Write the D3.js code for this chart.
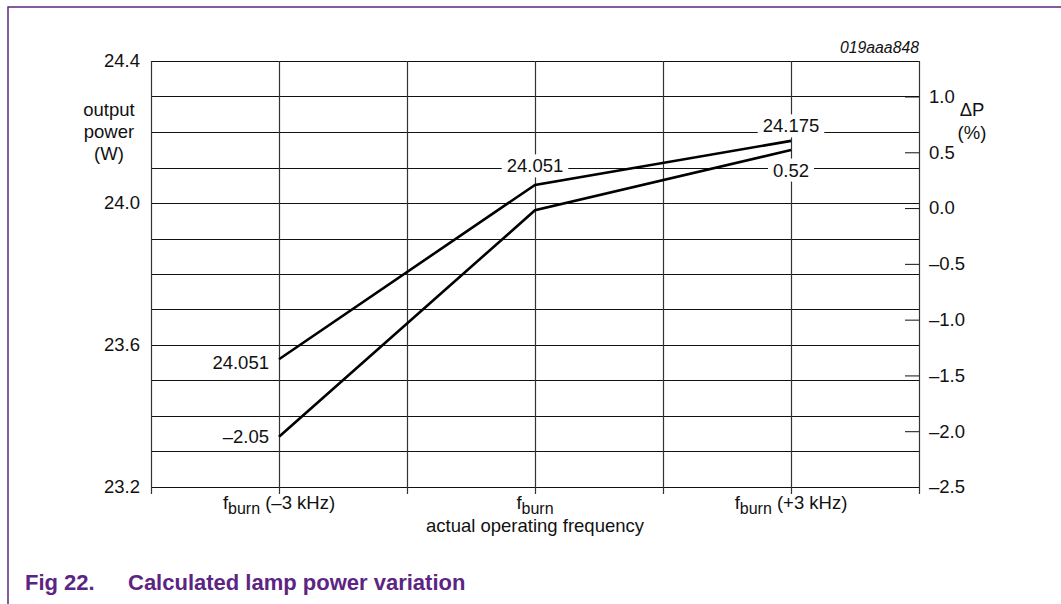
<!DOCTYPE html>
<html>
<head>
<meta charset="utf-8">
<script src="https://cdn.jsdelivr.net/npm/d3@7"></script>
<style>
  body { margin: 0; background: #fff; }
  svg { display: block; font-family: Arial, "Liberation Sans", sans-serif; }
</style>
</head>
<body>
<svg width="1061" height="604"></svg>
<script>
// frequency offsets (kHz) relative to f_burn and their axis labels
var freqOffsets = [-3, 0, 3];
var freqSuffix = [" (–3 kHz)", "", " (+3 kHz)"];

// output power (W), left axis
var powerW = [23.56, 24.051, 24.175];
var powerLabels = ["24.051", "24.051", "24.175"];

// power change (%), right axis
var deltaP = [-2.05, -0.02, 0.52];
var deltaLabels = ["–2.05", null, "0.52"];

var leftTicks = [23.2, 23.6, 24.0, 24.4];
var rightTicks = [-2.5, -2.0, -1.5, -1.0, -0.5, 0.0, 0.5, 1.0];

var purple = "#5c2483";
var fs = 18.5;
var svg = d3.select("svg");

var plotL = 151, plotR = 919, plotT = 61, plotB = 487;

var x = d3.scaleLinear().domain([-4.5, 4.5]).range([plotL, plotR]);
var yL = d3.scaleLinear().domain([23.2, 24.4]).range([plotB, plotT]);
var yR = d3.scaleLinear().domain([-2.5, 1.0]).range([plotB, yL(24.3)]);

var fmtMinus = function (d) { return d3.format(".1f")(d).replace("−", "–"); };

// page border
svg.append("path")
	.attr("d", "M8,604 V7 H1061")
	.attr("fill", "none")
	.attr("stroke", purple)
	.attr("stroke-width", 1.5);

var grid = svg.append("g");

// horizontal grid every 0.1 W
grid.selectAll("line.h")
	.data(d3.range(0, 13).map(function (i) { return 23.2 + i * 0.1; }))
	.enter().append("line")
	.attr("x1", plotL).attr("x2", plotR)
	.attr("y1", function (d) { return Math.round(yL(d)) + 0.5; })
	.attr("y2", function (d) { return Math.round(yL(d)) + 0.5; })
	.attr("stroke", "#111").attr("stroke-width", 1);

// vertical grid every 1.5 kHz
grid.selectAll("line.v")
	.data(d3.range(0, 7).map(function (i) { return -4.5 + i * 1.5; }))
	.enter().append("line")
	.attr("x1", function (d) { return Math.round(x(d)) + 0.5; })
	.attr("x2", function (d) { return Math.round(x(d)) + 0.5; })
	.attr("y1", plotT).attr("y2", plotB + 7)
	.attr("stroke", "#333").attr("stroke-width", 1.2);

// left axis
var axL = svg.append("g")
	.attr("transform", "translate(" + plotL + ",0)")
	.call(d3.axisLeft(yL).tickValues(leftTicks).tickSize(0).tickPadding(11).tickFormat(d3.format(".1f")));
axL.select(".domain").remove();
axL.selectAll("text").attr("font-size", fs).attr("font-family", null).attr("fill", "#111");

// right axis with inward ticks
var axR = svg.append("g")
	.attr("transform", "translate(" + plotR + ",0)")
	.call(d3.axisRight(yR).tickValues(rightTicks).tickSizeInner(-14).tickSizeOuter(0).tickPadding(10).tickFormat(fmtMinus));
axR.select(".domain").remove();
axR.selectAll("line").attr("stroke", "#111");
axR.selectAll("text").attr("font-size", fs).attr("font-family", null).attr("fill", "#111");

// axis titles
var lt = svg.append("text").attr("text-anchor", "middle").attr("font-size", fs).attr("fill", "#111");
lt.append("tspan").attr("x", 109).attr("y", 116).text("output");
lt.append("tspan").attr("x", 109).attr("y", 138).text("power");
lt.append("tspan").attr("x", 109).attr("y", 160).text("(W)");

var rt = svg.append("text").attr("text-anchor", "middle").attr("font-size", fs).attr("fill", "#111");
rt.append("tspan").attr("x", 972).attr("y", 116).text("ΔP");
rt.append("tspan").attr("x", 972).attr("y", 139).text("(%)");

svg.append("text")
	.attr("x", plotR).attr("y", 53)
	.attr("text-anchor", "end")
	.attr("font-size", 15.8).attr("font-style", "italic").attr("fill", "#111")
	.text("019aaa848");

// x labels
freqOffsets.forEach(function (f, i) {
	var t = svg.append("text")
		.attr("x", x(f)).attr("y", 509)
		.attr("text-anchor", "middle").attr("font-size", fs).attr("fill", "#111");
	t.append("tspan").text("f");
	t.append("tspan").attr("font-size", 16).attr("dy", 5).text("burn");
	t.append("tspan").attr("dy", -5).text(freqSuffix[i]);
});
svg.append("text")
	.attr("x", x(0)).attr("y", 532)
	.attr("text-anchor", "middle").attr("font-size", fs).attr("fill", "#111")
	.text("actual operating frequency");

// data lines
var linePower = d3.line()
	.x(function (d, i) { return x(freqOffsets[i]); })
	.y(function (d) { return yL(d); });
var lineDelta = d3.line()
	.x(function (d, i) { return x(freqOffsets[i]); })
	.y(function (d) { return yR(d); });

svg.append("path").datum(powerW).attr("d", linePower)
	.attr("fill", "none").attr("stroke", "#000").attr("stroke-width", 2.6);
svg.append("path").datum(deltaP).attr("d", lineDelta)
	.attr("fill", "none").attr("stroke", "#000").attr("stroke-width", 2.6);

// value labels
function boxedLabel(txt, cx, cy) {
	var g = svg.append("g");
	var t = g.append("text")
		.attr("x", cx).attr("y", cy + 6.5)
		.attr("text-anchor", "middle").attr("font-size", fs).attr("fill", "#111")
		.text(txt);
	var b = t.node().getBBox();
	g.insert("rect", "text")
		.attr("x", b.x - 5).attr("y", b.y - 1)
		.attr("width", b.width + 10).attr("height", b.height + 2)
		.attr("fill", "#fff");
}
function sideLabel(txt, px, py) {
	svg.append("text")
		.attr("x", px - 10).attr("y", py + 6.5)
		.attr("text-anchor", "end").attr("font-size", fs).attr("fill", "#111")
		.text(txt);
}

sideLabel(powerLabels[0], x(freqOffsets[0]), yL(powerW[0]) + 3);
sideLabel(deltaLabels[0], x(freqOffsets[0]), yR(deltaP[0]));
boxedLabel(powerLabels[1], x(freqOffsets[1]), yL(powerW[1]) - 19);
boxedLabel(powerLabels[2], x(freqOffsets[2]), yL(powerW[2]) - 15);
boxedLabel(deltaLabels[2], x(freqOffsets[2]), yR(deltaP[2]) + 20);

// caption
var cap = svg.append("text")
	.attr("y", 590)
	.attr("font-size", 22).attr("font-weight", "bold").attr("fill", purple);
cap.append("tspan").attr("x", 25).text("Fig 22.");
cap.append("tspan").attr("x", 128).text("Calculated lamp power variation");
</script>
</body>
</html>
